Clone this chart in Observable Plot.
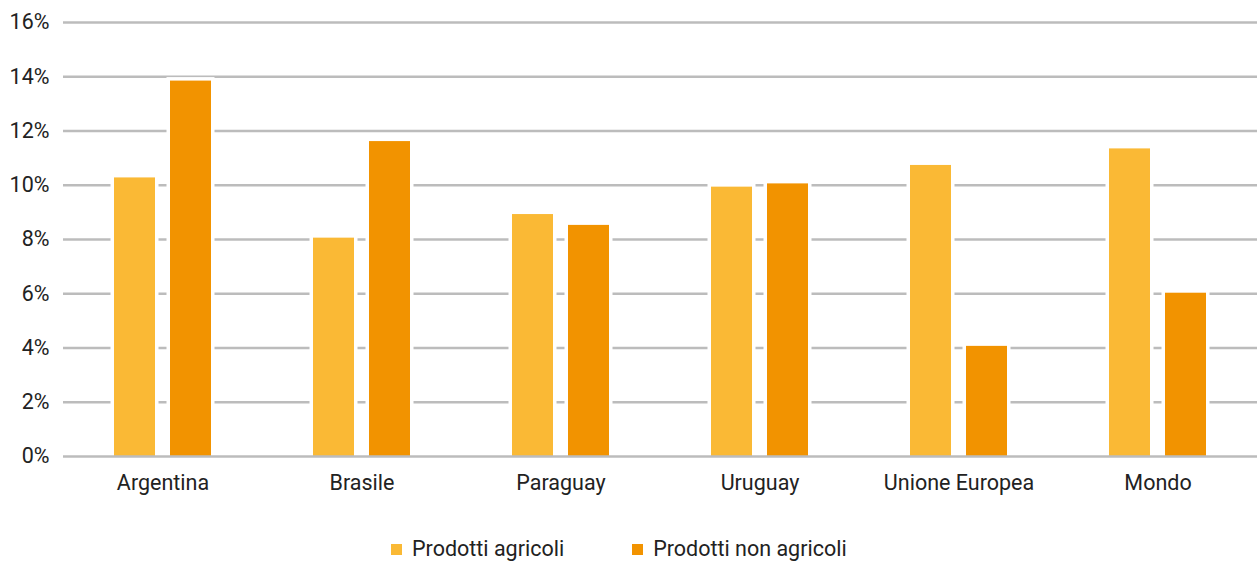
<!DOCTYPE html>
<html>
<head>
<meta charset="utf-8">
<script src="https://cdn.jsdelivr.net/npm/d3@7"></script>
<script src="https://cdn.jsdelivr.net/npm/@observablehq/plot@0.6"></script>
<style>
  body { margin: 0; background: #fff; font-family: Roboto, sans-serif; color: #222; }
  #chart { position: relative; width: 1259px; height: 561px; }
  .legend { position: absolute; left: 391px; top: 537px; display: flex; align-items: center; font-size: 21.5px; line-height: 24px; color: #222; }
  .legend .item { display: flex; align-items: center; }
  .legend .sw { width: 11px; height: 11px; margin-right: 10px; }
</style>
</head>
<body>
<div id="chart"></div>
<script>
const countries = ["Argentina", "Brasile", "Paraguay", "Uruguay", "Unione Europea", "Mondo"];
const seriesNames = ["Prodotti agricoli", "Prodotti non agricoli"];
const agricoli = [10.27, 8.05, 8.92, 9.93, 10.73, 11.34];
const nonAgricoli = [13.84, 11.61, 8.52, 10.05, 4.06, 6.02];
const colors = ["#fab935", "#f29300"];
const yTicks = [0, 2, 4, 6, 8, 10, 12, 14, 16];

const data = [];
countries.forEach((c, i) => {
  data.push({country: c, series: seriesNames[0], value: agricoli[i]});
  data.push({country: c, series: seriesNames[1], value: nonAgricoli[i]});
});

const plot = Plot.plot({
  width: 1259,
  height: 500,
  marginLeft: 61,
  marginRight: 0,
  marginTop: 22,
  marginBottom: 44,
  style: {fontFamily: "Roboto, sans-serif", fontSize: "21.5px", color: "#222", background: "white"},
  fx: {domain: countries, paddingInner: 0, paddingOuter: 0, label: null, tickSize: 0, tickPadding: 18},
  x: {domain: seriesNames, paddingInner: 0.263, paddingOuter: 0.886, axis: null},
  y: {domain: [0, 16], ticks: yTicks, tickFormat: d => d + "%", tickSize: 0, tickPadding: 14, label: null},
  color: {domain: seriesNames, range: colors},
  marks: [
    Plot.ruleY(yTicks.filter(d => d > 0), {y: d => d, stroke: "#bcbcbc", strokeWidth: 2.5}),
    Plot.barY(data, {fx: "country", x: "series", y: "value", fill: "white", stroke: "white", strokeWidth: 7}),
    Plot.barY(data, {fx: "country", x: "series", y: "value", fill: "series"}),
    Plot.ruleY([0], {stroke: "#bcbcbc", strokeWidth: 2.5})
  ]
});
document.getElementById("chart").appendChild(plot);

const legend = document.createElement("div");
legend.className = "legend";
seriesNames.forEach((s, i) => {
  const item = document.createElement("div");
  item.className = "item";
  if (i > 0) item.style.marginLeft = "68px";
  const sw = document.createElement("span");
  sw.className = "sw";
  sw.style.background = colors[i];
  const t = document.createElement("span");
  t.textContent = s;
  item.appendChild(sw);
  item.appendChild(t);
  legend.appendChild(item);
});
document.getElementById("chart").appendChild(legend);
</script>
</body>
</html>
